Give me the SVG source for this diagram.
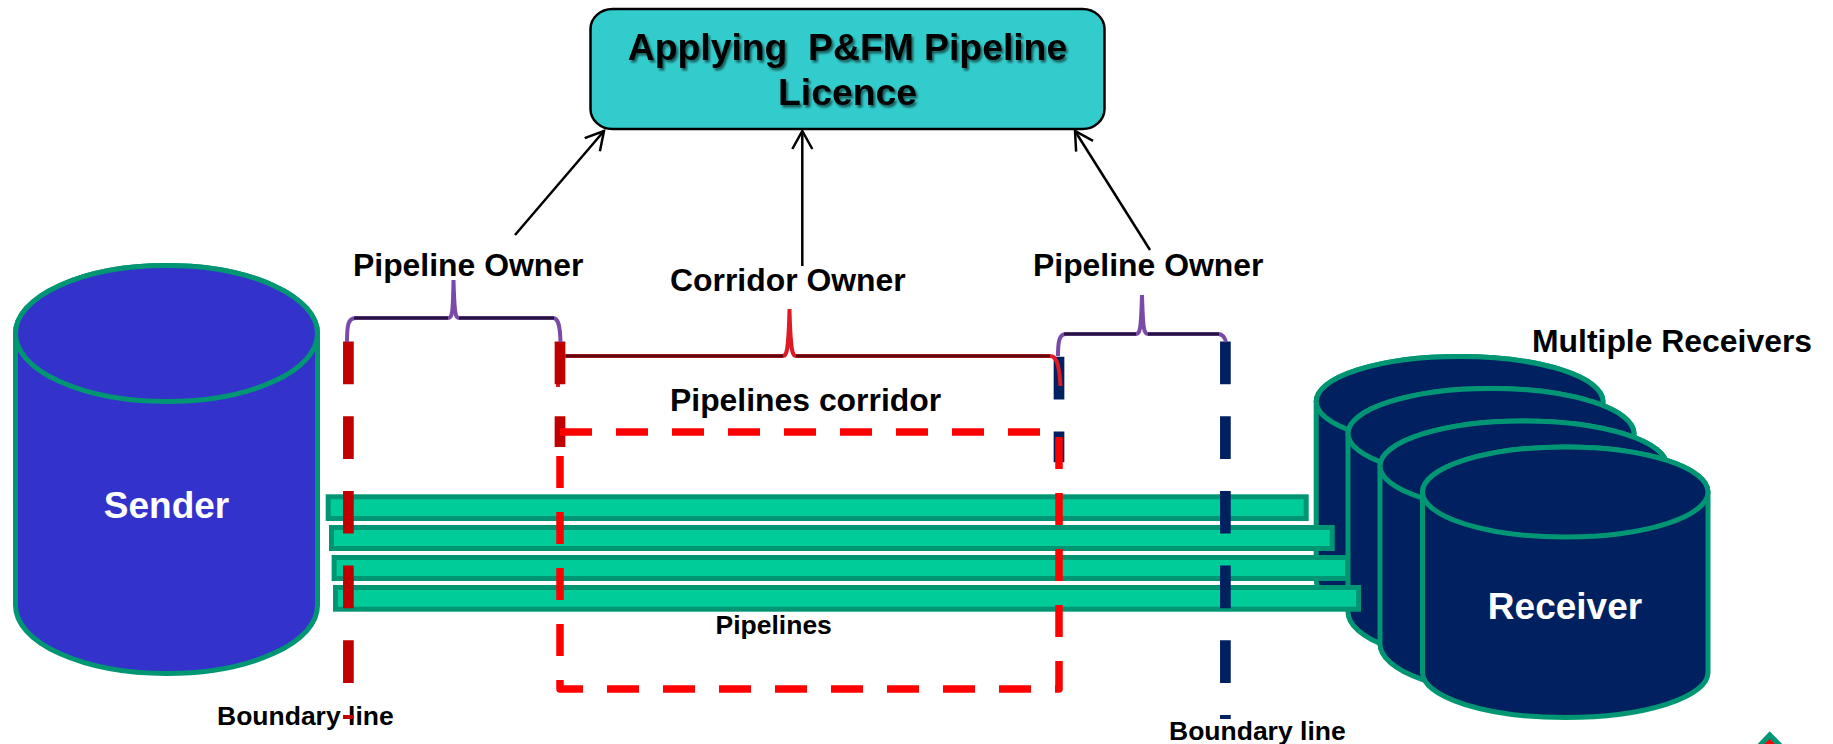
<svg xmlns="http://www.w3.org/2000/svg" width="1833" height="744" viewBox="0 0 1833 744">
<style>
text{font-family:"Liberation Sans",Arial,sans-serif;font-weight:700;fill:#000}
.lg{font-size:31.9px}.sm{font-size:26.5px}.ttl{font-size:37.3px;text-anchor:middle;filter:url(#sh)}
.wh{fill:#fff;font-size:37px;text-anchor:middle}
.cyl{stroke:#009674;stroke-width:5}
.s{fill:#3333CC}.r{fill:#002060}
.pipe{fill:#00CC99;stroke:#009674;stroke-width:5}
.arrow{fill:none;stroke:#000;stroke-width:2.5;marker-end:url(#open)}
.bd{fill:none;stroke-width:10.7;stroke-dasharray:42.7 32}
.brP{fill:none;stroke:#7A4AA8;stroke-width:4}
.brR{fill:none;stroke:#E01A24;stroke-width:4}
.dk{fill:none;stroke:#26143C;stroke-width:3}
.dkR{fill:none;stroke:#5A0A10;stroke-width:3}
</style>
<defs>
<marker id="open" markerUnits="userSpaceOnUse" markerWidth="24" markerHeight="26" refX="20" refY="12" orient="auto"><path d="M2 2 L20 12 L2 22" fill="none" stroke="#000" stroke-width="2.5"/></marker>
<filter id="sh" x="-5%" y="-20%" width="110%" height="150%"><feDropShadow dx="2" dy="2.5" stdDeviation="1.2" flood-color="#000" flood-opacity=".55"/></filter>
</defs>
<rect width="1833" height="744" fill="#fff"/>
<g id="sender">
<path class="cyl s" d="M15.5 333.5 A151 68 0 0 1 317.5 333.5 V605.5 A151 68 0 0 1 15.5 605.5 Z"/>
<ellipse class="cyl s" cx="166.500" cy="333.500" rx="151" ry="68"/>
<text class="wh" x="166.500" y="518">Sender</text>
</g>
<g id="receivers">
<g id="receiver-1"><path class="cyl r" d="M1316.200 401.500 A143.400 45 0 0 1 1603 401.500 V580 A143.400 45 0 0 1 1316.200 580 Z"/><ellipse class="cyl r" cx="1459.600" cy="401.500" rx="143.400" ry="45"/></g>
<g id="receiver-2"><path class="cyl r" d="M1348 433.500 A143 45 0 0 1 1634 433.500 V612 A143 50 0 0 1 1348 612 Z"/><ellipse class="cyl r" cx="1491" cy="433.500" rx="143" ry="45"/></g>
<g id="receiver-3"><path class="cyl r" d="M1380 466 A143.500 45 0 0 1 1667 466 V644 A143.500 50 0 0 1 1380 644 Z"/><ellipse class="cyl r" cx="1523.500" cy="466" rx="143.500" ry="45"/></g>
<g id="receiver-4"><path class="cyl r" d="M1422.500 492 A142.750 45 0 0 1 1708 492 V672.500 A142.750 45 0 0 1 1422.500 672.500 Z"/><ellipse class="cyl r" cx="1565.250" cy="492" rx="142.750" ry="45"/>
<text class="wh" x="1565" y="619">Receiver</text></g>
</g>
<g id="pipelines">
<rect id="pipe-1" class="pipe" x="328.200" y="496.800" width="978" height="21.700"/>
<rect id="pipe-2" class="pipe" x="331.500" y="527.500" width="1000.700" height="21"/>
<rect id="pipe-3" class="pipe" x="334.100" y="557.500" width="1013.400" height="21"/>
<rect id="pipe-4" class="pipe" x="335.500" y="587.500" width="1023" height="21.700"/>
</g>
<g id="labels">
<text class="lg" x="353" y="276">Pipeline Owner</text>
<text class="lg" x="670" y="291">Corridor Owner</text>
<text class="lg" x="1033" y="276">Pipeline Owner</text>
<text class="lg" x="1532" y="352">Multiple Receivers</text>
<text class="lg" x="670" y="411">Pipelines corridor</text>
<text class="sm" x="715.500" y="634">Pipelines</text>
<text class="sm" x="217" y="725">Boundary line</text>
<text class="sm" x="1169" y="740">Boundary line</text>
</g>
<g id="boundaries">
<path class="bd" stroke="#002060" d="M1059 356.700 V462.300"/>
<path class="bd" stroke="#002060" d="M1225.400 341.500 V719"/>
<path class="brR" d="M558 387 C558 362 560 356 566 356 H783 C787 356 788.500 350 789.500 309 C790.500 350 792 356 796 356 H1050 C1056 356 1059 362 1060.500 386"/>
<path class="dkR" d="M566 356 H783 M796 356 H1050"/>
<path class="bd" stroke="#C00000" d="M348.400 341.500 V719"/>
<path class="bd" stroke="#C00000" d="M560 341.500 V447"/>
<path d="M560 432 H1059 V689 H560 Z" fill="none" stroke="#FF0000" stroke-width="7.500" stroke-linejoin="round" stroke-dasharray="32 24"/>
</g>
<g id="braces">
<path class="brP" d="M347 342 C347 325 348 318 356 318 H448 C452 318 453 315 453.500 280 C454.500 315 455.500 318 459 318 H553 C558 318 560 325 560.500 342"/>
<path class="dk" d="M354 318 H448 M459 318 H554"/>
<path class="brP" d="M1058 356 C1058 342 1059 334 1066 334 H1136 C1140 334 1141 330 1142 295 C1143 330 1144 334 1148 334 H1218 C1223 334 1225 338 1226 342"/>
<path class="dk" d="M1064 334 H1136 M1148 334 H1219"/>
</g>
<g id="connectors">
<path class="arrow" d="M515 235 L604 131"/>
<path class="arrow" d="M802.300 266 V131"/>
<path class="arrow" d="M1150 250 L1075 131"/>
</g>
<g id="licence-box">
<rect x="590.500" y="9" width="514" height="120" rx="22" ry="20" fill="#33CCCC" stroke="#000" stroke-width="2.500"/>
<text class="ttl" x="847.500" y="60" xml:space="preserve">Applying  P&amp;FM Pipeline</text>
<text class="ttl" x="847.500" y="105">Licence</text>
</g>
<g id="logo">
<polygon points="1769.700,731.300 1790,752 1750,752" fill="#009674"/>
<polygon points="1769.700,739 1785,754 1754,754" fill="#FF0000"/>
</g>
</svg>
